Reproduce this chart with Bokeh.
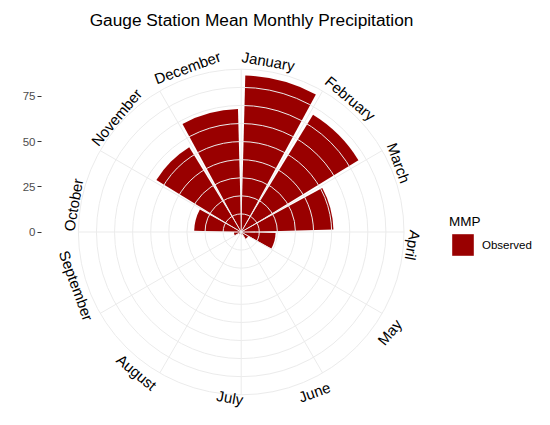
import numpy as np
from bokeh.plotting import figure
from bokeh.models import ColumnDataSource, Range1d, FixedTicker, Label, Legend, LegendItem
from bokeh.core.properties import value
from bokeh.embed import file_html
from bokeh.resources import INLINE

# ---------------- data ----------------
months = ["January", "February", "March", "April", "May", "June",
          "July", "August", "September", "October", "November", "December"]
precip = [86.5, 76.0, 51.0, 19.0, 4.5, 1.5, 1.0, 1.5, 4.0, 26.0, 55.0, 68.0]
y_ticks = [0, 25, 50, 75]
grid_radii = [10, 20, 30, 40, 50, 60, 70, 80, 90]
series_name = "Observed"
legend_title = "MMP"
chart_title = "Gauge Station Mean Monthly Precipitation"
y_label = "MMPrec"

# ---------------- layout / style ----------------
W, H = 534, 409          # figure size (page has 8px margin)
LEFT = 41                # left border holding the r axis
S = 1.809                # pixels per data unit
CX, CY = 240.7, 231.5    # pole position in figure pixels
FONT = "Liberation Sans"
BAR = "#990000"
GRID = "#EBEBEB"
BAR_WIDTH = 0.9
R_OUTER = 90.0
# month label placement (angle clockwise from top, distance in px, text rotation)
label_theta = [9.0, 39.2, 66.3, 94.4, 124.0, 155.4, 183.9, 216.7, 252.0, 279.2, 312.6, 341.9]
label_rpx = [173.0, 172.5, 172.0, 172.0, 179.0, 176.0, 166.0, 175.0, 173.5, 170.0, 169.5, 173.0]
label_rot = [-10, -40, -70, -100, 50, 20, -10, -40, -70, 80, 50, 20]


def to_data(sx, sy):
    return (sx - CX) / S, (CY - sy) / S


fx0, fy0 = to_data(LEFT, H)
fx1, fy1 = to_data(W, 0)

p = figure(width=W, height=H, output_backend="svg", toolbar_location=None,
           x_range=Range1d(fx0, fx1), y_range=Range1d(fy0, fy1),
           x_axis_location=None, y_axis_location="left",
           min_border_left=LEFT, min_border_right=0, min_border_top=0, min_border_bottom=0)
p.outline_line_color = None
p.grid.grid_line_color = None
p.background_fill_color = "white"
p.border_fill_color = "white"

# r axis
ax = p.yaxis[0]
ax.ticker = FixedTicker(ticks=y_ticks)
ax.axis_line_color = None
ax.major_tick_in = 0
ax.major_tick_out = 4
ax.major_tick_line_color = "#333333"
ax.minor_tick_line_color = None
ax.major_label_standoff = 2
ax.major_label_text_font = FONT
ax.major_label_text_font_size = "11.5px"
ax.major_label_text_color = "#4D4D4D"

# bars (wedges)
n = len(months)
step = 360.0 / n
half_gap = step * (1 - BAR_WIDTH) / 2
theta0 = np.arange(n) * step + half_gap
theta1 = (np.arange(n) + 1) * step - half_gap
src = ColumnDataSource(dict(
    month=months, value=precip,
    start=np.radians(90 - theta1), end=np.radians(90 - theta0)))
wedges = p.wedge(x=0, y=0, radius="value", start_angle="start", end_angle="end",
                 source=src, fill_color=BAR, line_color=None)

# grid drawn on top of the bars
p.circle(x=0, y=0, radius=grid_radii, fill_color=None, line_color=GRID, line_width=1)
spoke_t = np.radians(np.arange(n) * step)
p.segment(x0=0, y0=0, x1=R_OUTER * np.sin(spoke_t), y1=R_OUTER * np.cos(spoke_t),
          line_color=GRID, line_width=1)

# month labels
lt = np.radians(label_theta)
lr = np.array(label_rpx) / S
lab_src = ColumnDataSource(dict(x=lr * np.sin(lt), y=lr * np.cos(lt), text=months,
                                angle=np.radians(label_rot)))
p.text(x="x", y="y", text="text", angle="angle", source=lab_src,
       text_font=value(FONT), text_font_size="15px", text_color="black",
       text_align="center", text_baseline="middle")

# title
tx, ty = to_data(251, 19.5)
p.add_layout(Label(x=tx, y=ty, text=chart_title, text_font=FONT, text_font_size="17.3px",
                   text_color="black", text_align="center", text_baseline="alphabetic"))

# r axis title
yx, yy = to_data(12, 236)
p.add_layout(Label(x=yx, y=yy, text=y_label, angle=90, angle_units="deg",
                   text_font=FONT, text_font_size="14.4px", text_color="black",
                   text_align="center", text_baseline="middle"))

# legend
legend = Legend(items=[LegendItem(label=series_name, renderers=[wedges])],
                location=(408, 151), title=legend_title,
                title_text_font=FONT, title_text_font_size="13.5px", title_text_font_style="normal",
                title_text_color="black", title_standoff=2,
                label_text_font=FONT, label_text_font_size="11.5px", label_text_color="black",
                glyph_width=27, glyph_height=27, label_standoff=6, spacing=0,
                padding=0, margin=0, border_line_color=None, background_fill_alpha=0)
p.add_layout(legend)

open("out.html", "w").write(file_html(p, INLINE))
